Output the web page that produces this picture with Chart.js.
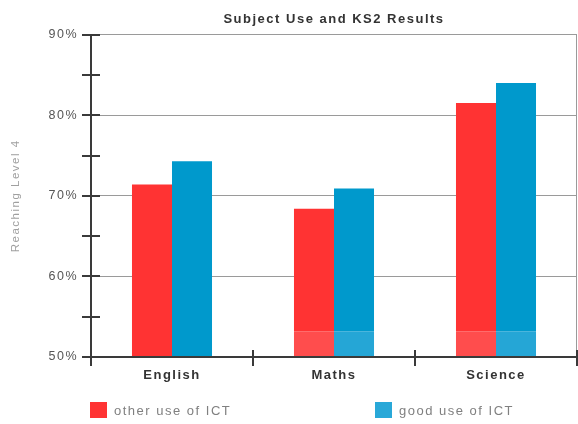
<!DOCTYPE html>
<html><head><meta charset="utf-8">
<script src="https://cdn.jsdelivr.net/npm/chart.js@4/dist/chart.umd.min.js"></script>
<style>html,body{margin:0;padding:0;background:#fff}</style>
</head><body>
<canvas id="c" width="578" height="424"></canvas>
<script>
// ---- data ----
const categories = ['English', 'Maths', 'Science'];
const seriesNames = ['other use of ICT', 'good use of ICT'];
const otherUse = [71.4, 68.4, 81.5];
const goodUse = [74.3, 70.9, 84.0];
// top of the lighter band at the base of each bar (English shows none)
const bandTop = [50, 53.2, 53.2];
const yTickValues = [50, 55, 60, 65, 70, 75, 80, 85, 90];
const chartTitle = 'Subject Use and KS2 Results';
const yTitle = 'Reaching Level 4';

// ---- styles ----
const RED = '#ff3333', RED_LIGHT = '#ff4d4d';
const BLUE = '#0099cc', BLUE_LIGHT = '#25a6d6';
const LEGEND_COLORS = ['#ff3333', '#29a8d8'];
const FONT = "'Liberation Sans', Arial, sans-serif";
const SPACING = '1.5px';

const spacingPlugin = {
  id: 'spacing',
  beforeInit(c) { c.ctx.letterSpacing = SPACING; },
  beforeUpdate(c) { c.ctx.letterSpacing = SPACING; },
  beforeLayout(c) { c.ctx.letterSpacing = SPACING; },
  beforeDraw(c) { c.ctx.letterSpacing = SPACING; }
};

const axesPlugin = {
  id: 'axesDeco',
  afterDatasetsDraw(chart) {
    const { ctx, chartArea: a, scales: { x, y } } = chart;
    ctx.save();
    // right border
    ctx.strokeStyle = '#9a9a9a'; ctx.lineWidth = 1;
    ctx.beginPath(); ctx.moveTo(a.right - 0.5, a.top); ctx.lineTo(a.right - 0.5, a.bottom); ctx.stroke();
    ctx.strokeStyle = '#3a3a3a'; ctx.lineWidth = 2;
    // y axis line
    ctx.beginPath(); ctx.moveTo(a.left, a.top); ctx.lineTo(a.left, a.bottom + 9); ctx.stroke();
    // x axis line
    ctx.beginPath(); ctx.moveTo(a.left, a.bottom); ctx.lineTo(a.right, a.bottom); ctx.stroke();
    // y tick marks (crossing axis)
    yTickValues.forEach(v => {
      const py = Math.round(y.getPixelForValue(v));
      ctx.beginPath(); ctx.moveTo(a.left - 9, py); ctx.lineTo(a.left + 9, py); ctx.stroke();
    });
    // x category boundary ticks
    const n = categories.length;
    const half = (x.getPixelForValue(1) - x.getPixelForValue(0)) / 2;
    for (let i = 0; i < n; i++) {
      const px = Math.round(x.getPixelForValue(i) + half);
      ctx.beginPath(); ctx.moveTo(px, a.bottom - 7); ctx.lineTo(px, a.bottom + 9); ctx.stroke();
    }
    ctx.restore();
  },
  afterDraw(chart) {
    const { ctx, chartArea: a } = chart;
    ctx.save();
    ctx.letterSpacing = SPACING;
    ctx.font = '13px ' + FONT;
    ctx.textBaseline = 'middle';
    const starts = [a.left - 1, a.left + 284];
    seriesNames.forEach((name, i) => {
      const x0 = starts[i];
      ctx.fillStyle = LEGEND_COLORS[i];
      ctx.fillRect(x0, 402, 17, 16);
      ctx.fillStyle = '#808080';
      ctx.fillText(name, x0 + 24, 411);
    });
    ctx.restore();
  }
};

const other = otherUse.map((v, i) => v - bandTop[i]);
const good = goodUse.map((v, i) => v - bandTop[i]);

new Chart(document.getElementById('c'), {
  type: 'bar',
  data: {
    labels: categories,
    datasets: [
      { label: seriesNames[0] + ' base', data: bandTop, stack: 'other', backgroundColor: RED_LIGHT },
      { label: seriesNames[0], data: other, stack: 'other', backgroundColor: RED },
      { label: seriesNames[1] + ' base', data: bandTop, stack: 'good', backgroundColor: BLUE_LIGHT },
      { label: seriesNames[1], data: good, stack: 'good', backgroundColor: BLUE }
    ]
  },
  options: {
    responsive: false,
    animation: false,
    devicePixelRatio: 1,
    categoryPercentage: 0.494,
    barPercentage: 1,
    layout: { padding: { left: 0, right: 1, top: 0, bottom: 0 } },
    plugins: {
      legend: { display: false },
      tooltip: { enabled: false },
      title: {
        display: true, text: chartTitle, fullSize: false, color: '#333',
        font: { family: FONT, size: 13, weight: 'bold' },
        padding: { top: 12, bottom: 7 }
      }
    },
    scales: {
      x: {
        stacked: true,
        grid: { display: false, drawTicks: false },
        border: { display: false },
        ticks: { color: '#333', font: { family: FONT, size: 13, weight: 'bold' }, padding: 11 },
        afterFit(s) { s.height = 67; }
      },
      y: {
        stacked: true,
        min: 50, max: 90,
        border: { display: false },
        grid: {
          drawTicks: false,
          lineWidth: 1,
          color: c => (c.tick && c.tick.value % 10 === 0 && c.tick.value > 50) ? '#9a9a9a' : 'rgba(0,0,0,0)'
        },
        ticks: {
          stepSize: 5, padding: 13, color: '#555',
          font: { family: FONT, size: 12.5 },
          callback: v => (v % 10 === 0 ? v + '%' : '')
        },
        title: {
          display: true, text: yTitle, color: '#a0a0a0',
          font: { family: FONT, size: 11.5 },
          padding: { top: 9, bottom: 0 }
        },
        afterFit(s) { s.width = 91; }
      }
    }
  },
  plugins: [spacingPlugin, axesPlugin]
});
</script>
</body></html>
